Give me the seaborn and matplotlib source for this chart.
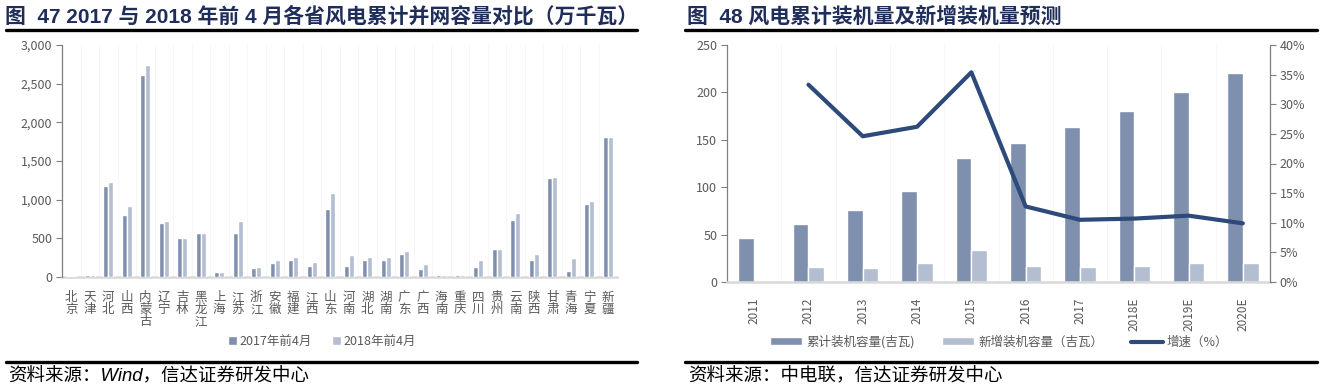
import numpy as np
import pandas as pd
import matplotlib
matplotlib.use("Agg")
import matplotlib.pyplot as plt
import seaborn as sns
from matplotlib.lines import Line2D
from matplotlib.patches import Patch
from matplotlib.ticker import FuncFormatter

# ---- data: left chart (万千瓦) ----
provinces = ["北京", "天津", "河北", "山西", "内蒙古", "辽宁", "吉林", "黑龙江", "上海", "江苏",
             "浙江", "安徽", "福建", "江西", "山东", "河南", "湖北", "湖南", "广东", "广西",
             "海南", "重庆", "四川", "贵州", "云南", "陕西", "甘肃", "青海", "宁夏", "新疆"]
cap_2017 = [16, 28, 1174, 805, 2611, 696, 500, 570, 65, 570,
            117, 183, 217, 144, 874, 148, 218, 226, 296, 109,
            30, 25, 130, 361, 740, 218, 1283, 74, 948, 1806]
cap_2018 = [16, 28, 1227, 913, 2735, 722, 500, 570, 65, 718,
            130, 226, 265, 200, 1083, 283, 265, 265, 339, 170,
            30, 25, 218, 365, 831, 291, 1292, 244, 979, 1806]
left_series = ["2017年前4月", "2018年前4月"]

# ---- data: right chart ----
years = ["2011", "2012", "2013", "2014", "2015", "2016", "2017", "2018E", "2019E", "2020E"]
cumulative = [46.2, 61.4, 76.3, 96.4, 130.6, 147.1, 163.2, 180.4, 200.8, 220.8]
new_added = [np.nan, 15.4, 14.7, 20.4, 34.0, 16.8, 15.4, 17.2, 20.0, 20.0]
growth = [np.nan, 0.333, 0.246, 0.262, 0.354, 0.1275, 0.105, 0.107, 0.112, 0.099]
right_series = ["累计装机容量(吉瓦)", "新增装机容量（吉瓦）", "增速（%）"]

sns.set_theme(style="white")
plt.rcParams["font.family"] = ["Noto Sans CJK SC", "DejaVu Sans"]
plt.rcParams["axes.unicode_minus"] = False

W, H = 1322, 390
fig = plt.figure(figsize=(W / 100, H / 100), dpi=100)


def px_axes(x0, x1, ytop, ybot):
    return fig.add_axes([x0 / W, 1 - ybot / H, (x1 - x0) / W, (ybot - ytop) / H])


c_dark = "#7F8FAE"
c_light = "#B3BED0"
c_line = "#2E4A7A"
c_tick = "#595959"
c_title = "#1F2D5A"

# ---------------- left chart ----------------
ax1 = px_axes(62, 617, 45, 277)
df1 = pd.DataFrame({
    "省份": provinces * 2,
    "容量": cap_2017 + cap_2018,
    "期间": [left_series[0]] * len(provinces) + [left_series[1]] * len(provinces),
})
sns.barplot(data=df1, x="省份", y="容量", hue="期间", palette=[c_dark, c_light],
            width=0.56, gap=0.06, ax=ax1, legend=False, saturation=1)
for p in ax1.patches:
    p.set_zorder(3)
ax1.set_ylim(0, 3000)
ax1.set_yticks(range(0, 3001, 500))
ax1.yaxis.set_major_formatter(FuncFormatter(lambda v, p: f"{int(v):,}"))
ax1.set_xlim(-0.5, len(provinces) - 0.5)
ax1.set_xticks(range(len(provinces)))
ax1.set_xticklabels(["\n".join(p) for p in provinces], fontsize=9,
                    color=c_tick, linespacing=0.92, va="top")
ax1.set_xlabel("")
ax1.set_ylabel("")
for s in ["top", "right"]:
    ax1.spines[s].set_visible(False)
ax1.spines["left"].set_color("#7f7f7f")
ax1.spines["left"].set_linewidth(0.9)
ax1.spines["bottom"].set_color("#d9d9d9")
ax1.spines["bottom"].set_linewidth(1.8)
ax1.spines["bottom"].set_zorder(1)
ax1.tick_params(axis="y", left=True, length=4, width=0.8, color="#7f7f7f",
                labelsize=9, labelcolor=c_tick, pad=3)
ax1.tick_params(axis="x", bottom=False, pad=4)
for k in range(len(provinces) + 1):
    ax1.axvline(k - 0.5, color="#f5f5f5", lw=0.6, zorder=0)

h1 = [Patch(facecolor=c_dark), Patch(facecolor=c_light)]
fig.legend(h1, left_series, loc="center", bbox_to_anchor=(322 / W, 1 - 341 / H),
           ncol=2, frameon=False, fontsize=9, handlelength=0.7, handleheight=0.7,
           handletextpad=0.2, columnspacing=1.6, labelcolor=c_tick)

# ---------------- right chart ----------------
ax2 = px_axes(727, 1270, 45, 282)
df2 = pd.DataFrame({
    "年份": years * 2,
    "装机": cumulative + new_added,
    "类别": [right_series[0]] * len(years) + [right_series[1]] * len(years),
})
sns.barplot(data=df2, x="年份", y="装机", hue="类别", palette=[c_dark, c_light],
            width=0.58, ax=ax2, legend=False, saturation=1)
ax2.set_ylim(0, 250)
ax2.set_yticks(range(0, 251, 50))
ax2.set_xlim(-0.5, len(years) - 0.5)
ax2.set_xticks(range(len(years)))
ax2.set_xticklabels(years, rotation=90, fontsize=8.5, color=c_tick)
ax2.set_xlabel("")
ax2.set_ylabel("")
ax2.spines["top"].set_visible(False)
ax2.spines["right"].set_visible(False)
ax2.spines["left"].set_color("#7f7f7f")
ax2.spines["left"].set_linewidth(0.9)
ax2.spines["bottom"].set_color("#d9d9d9")
ax2.spines["bottom"].set_linewidth(1.8)
ax2.tick_params(axis="y", left=True, length=4, width=0.8, color="#7f7f7f",
                labelsize=9, labelcolor=c_tick, pad=3)
ax2.tick_params(axis="x", bottom=False, pad=5)
for k in range(len(years) + 1):
    ax2.axvline(k - 0.5, color="#f5f5f5", lw=0.6, zorder=0)

ax3 = ax2.twinx()
df3 = pd.DataFrame({"pos": range(len(years)), "增速": growth}).dropna()
sns.lineplot(data=df3, x="pos", y="增速", ax=ax3, color=c_line, lw=3, legend=False)
ax3.set_ylim(0, 0.40)
ax3.set_yticks(np.arange(0, 0.401, 0.05))
ax3.yaxis.set_major_formatter(FuncFormatter(lambda v, p: f"{v * 100:.0f}%"))
ax3.set_ylabel("")
ax3.set_xlabel("")
for s in ["top", "left", "bottom"]:
    ax3.spines[s].set_visible(False)
ax3.spines["right"].set_color("#7f7f7f")
ax3.spines["right"].set_linewidth(0.9)
ax3.tick_params(axis="y", right=True, length=4, width=0.8, color="#7f7f7f",
                labelsize=9, labelcolor=c_tick, pad=3)

h2 = [Patch(facecolor=c_dark), Patch(facecolor=c_light),
      Line2D([0], [0], color=c_line, lw=3)]
fig.legend(h2, right_series, loc="center", bbox_to_anchor=(999 / W, 1 - 342 / H),
           ncol=3, frameon=False, fontsize=9, handlelength=2.6, handleheight=0.6,
           handletextpad=0.3, columnspacing=2.2, labelcolor=c_tick)

# ---------------- titles, rules, sources ----------------
title_font = ["Liberation Sans", "Noto Sans CJK SC"]
fig.text(5 / W, 1 - 16 / H, "图  47 2017 与 2018 年前 4 月各省风电累计并网容量对比（万千瓦）",
         family=title_font, fontweight="bold", fontsize=15, color=c_title, va="center")
fig.text(687 / W, 1 - 16 / H, "图  48 风电累计装机量及新增装机量预测",
         family=title_font, fontweight="bold", fontsize=15, color=c_title, va="center")
for x0, x1 in [(6, 637), (685, 1317)]:
    fig.add_artist(Line2D([x0 / W, x1 / W], [1 - 30 / H] * 2, color="black", lw=2.4))
    fig.add_artist(Line2D([x0 / W, x1 / W], [1 - 362 / H] * 2, color="black", lw=2.4))
src_font = ["Liberation Sans", "Noto Sans CJK SC"]
fig.text(8 / W, 1 - 377 / H, "资料来源：Wind，信达证券研发中心", family=src_font,
         style="italic", fontsize=13.3, color="black", va="center")
fig.text(688 / W, 1 - 377 / H, "资料来源：中电联，信达证券研发中心", family=src_font,
         style="italic", fontsize=13.3, color="black", va="center")

fig.savefig("out.png", dpi=100, facecolor="white")
